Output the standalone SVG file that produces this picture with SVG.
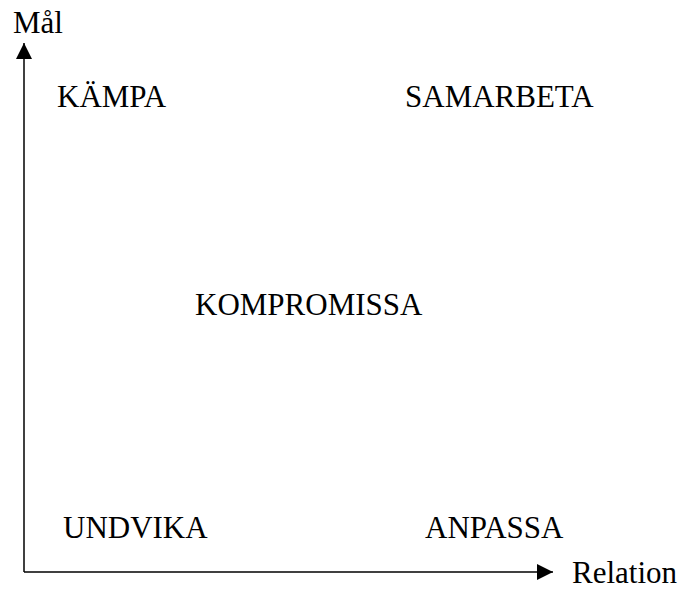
<svg xmlns="http://www.w3.org/2000/svg" width="684" height="589" viewBox="0 0 684 589">
<defs>
<style>
.t{font-family:"Liberation Serif","Times New Roman",serif;font-size:31px;fill:#000}
.ax{stroke:#000;stroke-width:1.5;fill:none}
</style>
<marker id="ah" markerUnits="userSpaceOnUse" markerWidth="16" markerHeight="16" refX="16" refY="8" orient="auto">
<path d="M0,0 L16,8 L0,16 z" fill="#000"/>
</marker>
</defs>
<rect width="684" height="589" fill="#fff"/>
<g id="connectors">
<path class="ax" d="M24,572 L24,43" marker-end="url(#ah)"/>
<path class="ax" d="M24,572 L553,572" marker-end="url(#ah)"/>
</g>
<g id="label-mal"><text class="t" x="13" y="33">Mål</text></g>
<g id="label-relation"><text class="t" x="572" y="583">Relation</text></g>
<g id="kampa"><text class="t" x="57" y="107">KÄMPA</text></g>
<g id="samarbeta"><text class="t" x="405" y="107">SAMARBETA</text></g>
<g id="kompromissa"><text class="t" x="195" y="315">KOMPROMISSA</text></g>
<g id="undvika"><text class="t" x="63" y="538">UNDVIKA</text></g>
<g id="anpassa"><text class="t" x="425" y="538">ANPASSA</text></g>
</svg>
